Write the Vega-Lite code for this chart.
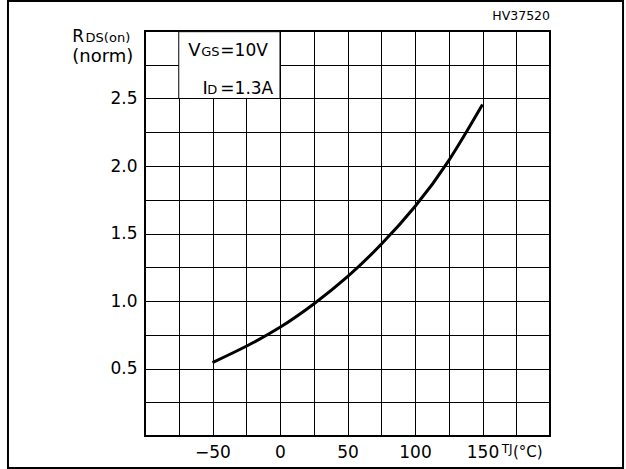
{
  "$schema": "https://vega.github.io/schema/vega-lite/v6.json",
  "width": 405,
  "height": 405,
  "autosize": "none",
  "padding": {"left": 145, "top": 31, "right": 76, "bottom": 33},
  "background": "white",
  "config": {
    "view": {"stroke": "black", "strokeWidth": 2},
    "font": "DejaVu Sans",
    "axis": {
      "grid": true,
      "gridColor": "black",
      "gridOpacity": 1,
      "gridWidth": 1,
      "domain": false,
      "ticks": false,
      "labelFont": "DejaVu Sans",
      "labelFontSize": 17,
      "labelColor": "black",
      "labelOverlap": false,
      "labelFlush": false,
      "labelPadding": 8,
      "title": null
    }
  },
  "resolve": {"axis": {"x": "independent", "y": "independent"}},
  "layer": [
    {
      "data": {"values": [
        {"t": -50, "r": 0.544},
        {"t": -25, "r": 0.665},
        {"t": 0, "r": 0.805},
        {"t": 25, "r": 0.978},
        {"t": 50, "r": 1.18},
        {"t": 75, "r": 1.42},
        {"t": 100, "r": 1.70},
        {"t": 125, "r": 2.04},
        {"t": 150, "r": 2.455}
      ]},
      "mark": {"type": "line", "interpolate": "natural", "color": "black", "strokeWidth": 3},
      "encoding": {
        "x": {
          "field": "t", "type": "quantitative",
          "scale": {"domain": [-100, 200], "nice": false, "zero": false},
          "axis": {
            "title": null,
            "orient": "bottom",
            "values": [-100, -75, -50, -25, 0, 25, 50, 75, 100, 125, 150, 175, 200],
            "labelExpr": "datum.value >= -50 && datum.value <= 150 && datum.value % 50 == 0 ? datum.label : ''",
            "labelBaseline": "top",
            "labelPadding": 8
          }
        },
        "y": {
          "field": "r", "type": "quantitative",
          "scale": {"domain": [0, 3], "nice": false, "zero": false},
          "axis": {
            "title": null,
            "orient": "left",
            "values": [0, 0.25, 0.5, 0.75, 1, 1.25, 1.5, 1.75, 2, 2.25, 2.5, 2.75, 3],
            "labelExpr": "datum.value >= 0.5 && datum.value <= 2.5 && (datum.value * 2) % 1 == 0 ? format(datum.value, '.1f') : ''",
            "labelPadding": 8
          }
        }
      }
    },
    {
      "data": {"values": [{}]},
      "mark": {"type": "rect", "fill": "white", "stroke": "black", "strokeWidth": 1},
      "encoding": {"x": {"datum": -75, "axis": null}, "x2": {"datum": 0}, "y": {"datum": 2.5, "axis": null}, "y2": {"datum": 2.995}}
    },
    {
      "data": {"values": [{}]},
      "mark": {"type": "text", "text": "R", "fontSize": 17, "align": "left", "baseline": "alphabetic", "color": "black"},
      "encoding": {"x": {"datum": -153.9, "axis": null}, "y": {"datum": 2.915, "axis": null}}
    },
    {
      "data": {"values": [{}]},
      "mark": {"type": "text", "text": "DS(on)", "fontSize": 13, "align": "left", "baseline": "alphabetic", "color": "black"},
      "encoding": {"x": {"datum": -144.0, "axis": null}, "y": {"datum": 2.915, "axis": null}}
    },
    {
      "data": {"values": [{}]},
      "mark": {"type": "text", "text": "(norm)", "fontSize": 18, "align": "left", "baseline": "alphabetic", "color": "black"},
      "encoding": {"x": {"datum": -153.9, "axis": null}, "y": {"datum": 2.77, "axis": null}}
    },
    {
      "data": {"values": [{}]},
      "mark": {"type": "text", "text": "V", "fontSize": 18, "align": "left", "baseline": "alphabetic", "color": "black"},
      "encoding": {"x": {"datum": -67.9, "axis": null}, "y": {"datum": 2.815, "axis": null}}
    },
    {
      "data": {"values": [{}]},
      "mark": {"type": "text", "text": "GS", "fontSize": 13, "align": "left", "baseline": "alphabetic", "color": "black"},
      "encoding": {"x": {"datum": -58.3, "axis": null}, "y": {"datum": 2.815, "axis": null}}
    },
    {
      "data": {"values": [{}]},
      "mark": {"type": "text", "text": "=10V", "fontSize": 17, "align": "left", "baseline": "alphabetic", "color": "black"},
      "encoding": {"x": {"datum": -44.2, "axis": null}, "y": {"datum": 2.815, "axis": null}}
    },
    {
      "data": {"values": [{}]},
      "mark": {"type": "text", "text": "I", "fontSize": 18, "align": "left", "baseline": "alphabetic", "color": "black"},
      "encoding": {"x": {"datum": -57.5, "axis": null}, "y": {"datum": 2.533, "axis": null}}
    },
    {
      "data": {"values": [{}]},
      "mark": {"type": "text", "text": "D", "fontSize": 13, "align": "left", "baseline": "alphabetic", "color": "black"},
      "encoding": {"x": {"datum": -53.8, "axis": null}, "y": {"datum": 2.533, "axis": null}}
    },
    {
      "data": {"values": [{}]},
      "mark": {"type": "text", "text": "=1.3A", "fontSize": 17, "align": "left", "baseline": "alphabetic", "color": "black"},
      "encoding": {"x": {"datum": -44.2, "axis": null}, "y": {"datum": 2.533, "axis": null}}
    },
    {
      "data": {"values": [{}]},
      "mark": {"type": "text", "text": "TJ", "fontSize": 12, "align": "left", "baseline": "alphabetic", "color": "black"},
      "encoding": {"x": {"datum": 164.2, "axis": null}, "y": {"datum": -0.124, "axis": null}}
    },
    {
      "data": {"values": [{}]},
      "mark": {"type": "text", "text": "(°C)", "fontSize": 15, "align": "left", "baseline": "alphabetic", "color": "black"},
      "encoding": {"x": {"datum": 172.6, "axis": null}, "y": {"datum": -0.156, "axis": null}}
    },
    {
      "data": {"values": [{}]},
      "mark": {"type": "text", "text": "HV37520", "fontSize": 12.5, "align": "right", "baseline": "alphabetic", "color": "black"},
      "encoding": {"x": {"datum": 200, "axis": null}, "y": {"datum": 3.081, "axis": null}}
    },
    {
      "data": {"values": [{}]},
      "mark": {"type": "rect", "fillOpacity": 0, "stroke": "black", "strokeWidth": 2},
      "encoding": {"x": {"datum": -201.5, "axis": null}, "x2": {"datum": 254.1}, "y": {"datum": -0.237, "axis": null}, "y2": {"datum": 3.222}}
    }
  ]
}
